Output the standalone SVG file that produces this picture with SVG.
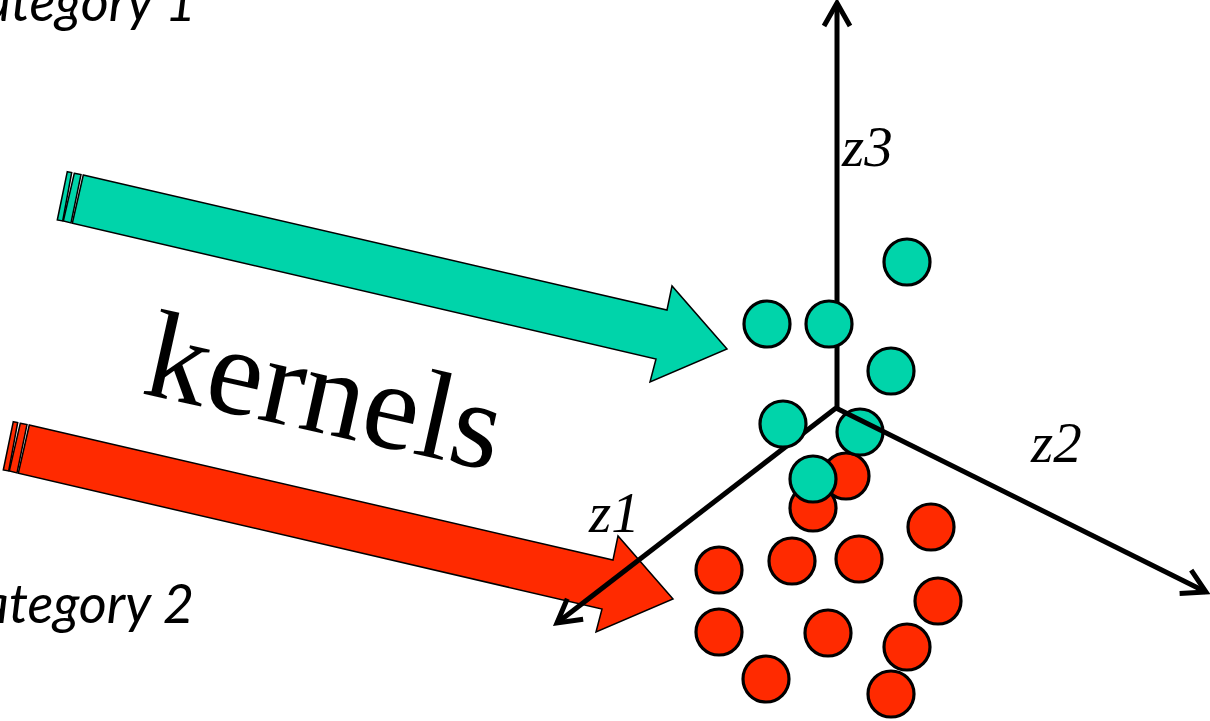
<svg xmlns="http://www.w3.org/2000/svg" width="1210" height="721" viewBox="0 0 1210 721">
<style>
.teal{fill:#00D4AA;stroke:#000;stroke-width:1.5;stroke-linejoin:miter}
.red{fill:#FF2A00;stroke:#000;stroke-width:1.5;stroke-linejoin:miter}
.dt{fill:#00D4AA;stroke:#000;stroke-width:3.2}
.dr{fill:#FF2A00;stroke:#000;stroke-width:3.2}
.axis{stroke:#000;stroke-width:5;fill:none;marker-end:url(#open)}
.lab{font-style:italic;font-size:57px;fill:#000}
.cat{font-style:italic;font-size:54px;fill:#000}
</style>
<defs>
<marker id="open" markerUnits="userSpaceOnUse" viewBox="-30 -20 40 40" refX="0" refY="0" markerWidth="40" markerHeight="40" orient="auto" overflow="visible">
<path d="M-23,-13 L0,0 L-23,13" fill="none" stroke="#000" stroke-width="5" stroke-linejoin="miter"/>
</marker>
<g id="arrowShape">
<path d="M67.3,171.7 L71.7,172.5 L62.7,221 L57.3,220 Z"/>
<path d="M74.3,173.3 L81,174.6 L71,222.9 L63.3,221 Z"/>
<path d="M83.3,175 L667,310 L672,286 L727,349 L650,382 L656,359 L72.3,223.3 Z"/>
</g>
</defs>
<g id="category1"><text class="cat" font-family="Lato, 'Open Sans', sans-serif" x="196" y="21" text-anchor="end">category 1</text></g>
<g id="category2"><text class="cat" font-family="Lato, 'Open Sans', sans-serif" x="194" y="623" text-anchor="end">category 2</text></g>
<g id="arrow-teal" class="teal"><use href="#arrowShape"/></g>
<g id="arrow-red" class="red"><use href="#arrowShape" transform="translate(-54,250)"/></g>
<g id="kernels"><text x="140" y="393" transform="rotate(12.5 140 393)" font-family="'Liberation Serif', 'Times New Roman', serif" font-size="125">kernels</text></g>
<g id="connectors">
<line class="axis" x1="837" y1="408" x2="837" y2="3"/>
<line class="axis" x1="836" y1="408" x2="557" y2="623"/>
</g>
<g id="points-red">
<circle class="dr" cx="846" cy="476" r="23"/>
<circle class="dr" cx="813" cy="508" r="23"/>
<circle class="dr" cx="931" cy="527" r="23"/>
<circle class="dr" cx="719" cy="570" r="23"/>
<circle class="dr" cx="792" cy="561" r="23"/>
<circle class="dr" cx="859" cy="559" r="23"/>
<circle class="dr" cx="938" cy="601" r="23"/>
<circle class="dr" cx="719" cy="632" r="23"/>
<circle class="dr" cx="828" cy="633" r="23"/>
<circle class="dr" cx="907" cy="647" r="23"/>
<circle class="dr" cx="766" cy="679" r="23"/>
<circle class="dr" cx="891" cy="694" r="23"/>
</g>
<g id="points-teal">
<circle class="dt" cx="907" cy="262" r="23"/>
<circle class="dt" cx="767" cy="324" r="23"/>
<circle class="dt" cx="829" cy="324" r="23"/>
<circle class="dt" cx="891" cy="371" r="23"/>
<circle class="dt" cx="783" cy="424" r="23"/>
<circle class="dt" cx="860" cy="432" r="23"/>
<circle class="dt" cx="813" cy="479" r="23"/>
</g>
<g id="connectors-z2">
<line class="axis" x1="836" y1="408" x2="1206" y2="592"/>
</g>
<g id="labels" font-family="'Liberation Serif', 'Times New Roman', serif">
<text class="lab" x="842" y="166">z3</text>
<text class="lab" x="1031" y="462">z2</text>
<text class="lab" x="589" y="532">z1</text>
</g>
</svg>
